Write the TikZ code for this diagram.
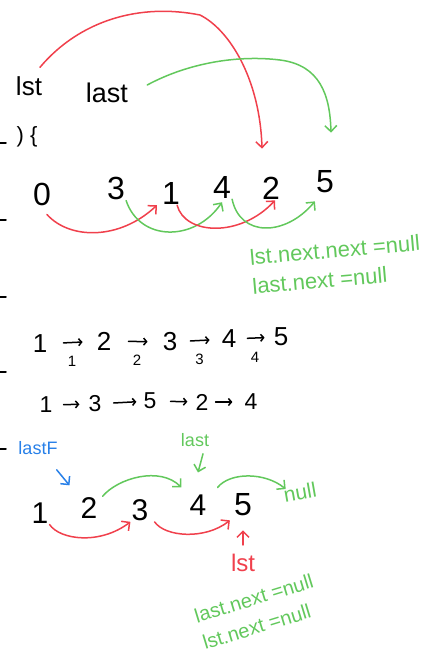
\documentclass[tikz,border=0pt]{standalone}
\usepackage{fontspec}
\setmainfont{Liberation Sans}
\usetikzlibrary{arrows.meta}
\definecolor{penred}{RGB}{240,64,76}
\definecolor{pengreen}{RGB}{98,200,92}
\definecolor{penblue}{RGB}{40,128,232}

\begin{document}
\begin{tikzpicture}[x=1pt,y=-1pt,
		>={Straight Barb[length=6pt,width=12pt]},
		pen/.style={line width=1.5pt,line cap=round,line join=round},
		redpen/.style={pen,draw=penred},
		greenpen/.style={pen,draw=pengreen},
		bluepen/.style={pen,draw=penblue},
		link/.style 2 args={pen,->,>={Straight Barb[length=3pt,width=7pt]},shorten <=#1,shorten >=#2},
		big/.style={inner sep=1pt,font=\fontsize{32}{34}\selectfont},
		mid/.style={inner sep=1pt,font=\fontsize{26}{28}\selectfont},
		small/.style={inner sep=1pt,font=\fontsize{23}{25}\selectfont},
		idx/.style={below=12pt,inner sep=1pt,font=\fontsize{15}{15}\selectfont},
		word/.style={inner sep=1pt,font=\fontsize{#1}{#1}\selectfont},
		note/.style={inner sep=1pt,anchor=west,align=left,text=pengreen}]
		\useasboundingbox (0,0) rectangle (435,654);
		% Cut-off strokes at the left edge
		\foreach \y in {143,220,297,372,449}
			\draw[pen] (0,\y) -- (6,\y);
		% Pointers at the top
		\node[word=26] (lst) at (29,86) {lst};
		\node[word=27] (lastTop) at (107,93) {last};
		\node[word=22] (brace) at (27,137) {) \{};
		% First list
		\node[big] (n0) at (42,194) {0};
		\node[big] (n3) at (116,188) {3};
		\node[big] (n1) at (171,193) {1};
		\node[big] (n4) at (222,187) {4};
		\node[big] (n2) at (271,188) {2};
		\node[big] (n5) at (325,182) {5};
		\draw[redpen,->] ([shift={(11pt,8pt)}]lst.north) .. controls (80,20) and (140,3) .. (200,15)
			.. controls (230,30) and (260,80) .. ([shift={(-9pt,27pt)}]n2.north);
		\draw[greenpen,->] ([shift={(18pt,8pt)}]lastTop.east) .. controls (190,62) and (240,55) .. (280,60)
			.. controls (320,65) and (330,95) .. ([shift={(6pt,37pt)}]n5.north);
		\draw[redpen,->] ([shift={(5pt,-8pt)}]n0.south) .. controls (70,240) and (120,240) .. ([xshift=-4pt]n1.south west);
		\draw[greenpen,->] (n3.south east) .. controls (140,242) and (195,242) .. ([yshift=-3pt]n4.south);
		\draw[redpen,->] ([xshift=-4pt]n1.south east) .. controls (185,235) and (240,238) .. ([xshift=4pt]n2.south);
		\draw[greenpen,->] (n4.south east) .. controls (240,237) and (285,237) .. ([yshift=-7pt]n5.south west);
		\node[note,rotate=5,font=\fontsize{22}{29}\selectfont] (note1) at (250,272)
			{lst.next.next =null\\last.next =null};
		% Second list
		\node[mid] (r1) at (40,344) {1};
		\node[mid] (r2) at (104,341) {2};
		\node[mid] (r3) at (170,342) {3};
		\node[mid] (r4) at (229,339) {4};
		\node[mid] (r5) at (281,337) {5};
		\draw[link={15pt}{13pt}] (r1) -- node[idx] {1} (r2);
		\draw[link={16pt}{14pt}] (r2) -- node[idx] {2} (r3);
		\draw[link={12pt}{11pt}] (r3) -- node[idx] {3} (r4);
		\draw[link={10pt}{8pt}] (r4) -- node[idx] {4} (r5);
		% Reordered list
		\node[small] (s1) at (46,405) {1};
		\node[small] (s3) at (95,404) {3};
		\node[small] (s5) at (150,401) {5};
		\node[small] (s2) at (202,402) {2};
		\node[small] (s4) at (251,402) {4};
		\draw[link={10pt}{8pt}] (s1) -- (s3);
		\draw[link={11pt}{6pt}] (s3) -- (s5);
		\draw[link={13pt}{7pt}] (s5) -- (s2);
		\draw[link={6pt}{11pt}] (s2) -- (s4);
		% Last step
		\node[word=30] (b1) at (40,513) {1};
		\node[word=30] (b2) at (89,508) {2};
		\node[word=30] (b3) at (140,510) {3};
		\node[word=30] (b4) at (198,505) {4};
		\node[word=32] (b5) at (243,505) {5};
		\node[word=18,text=penblue] (lastF) at (38,448) {lastF};
		\node[word=18,text=pengreen] (lastB) at (195,440) {last};
		\node[word=24,text=penred] (lstB) at (243,563) {lst};
		\node[word=21,text=pengreen,rotate=10] (nullB) at (300,492) {null};
		\draw[bluepen,->] ([shift={(-2pt,-14pt)}]lastF.south east) -- ([shift={(-10pt,11pt)}]b2.north west);
		\draw[greenpen,->] ([shift={(8pt,-6pt)}]lastB.south) -- ([yshift=21pt]b4.north);
		\draw[greenpen,->] ([xshift=4pt]b2.north east) .. controls (118,478) and (160,466) .. ([shift={(-7pt,6pt)}]b4.north west);
		\draw[greenpen,->] ([shift={(10pt,6pt)}]b4.north east) .. controls (230,472) and (265,472) .. ([shift={(3pt,6pt)}]nullB.west);
		\draw[redpen,->] (b1.south east) .. controls (60,540) and (100,545) .. (b3.south west);
		\draw[redpen,->] ([xshift=5pt]b3.south east) .. controls (165,537) and (205,540) .. ([shift={(-3pt,-3pt)}]b5.south west);
		\draw[redpen,->,shorten <=8pt,shorten >=13pt] (lstB) -- (b5);
		\node[note,rotate=17,font=\fontsize{20}{28}\selectfont] (note2) at (198,630)
			{last.next =null\\lst.next =null};
	\end{tikzpicture}
\end{document}
